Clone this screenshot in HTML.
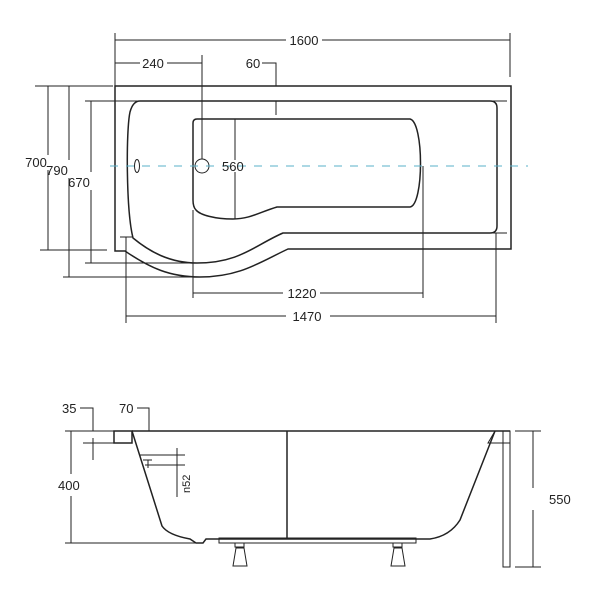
<!DOCTYPE html>
<html><head><style>body{margin:0;background:#fff}svg{display:block}text{font-family:"Liberation Sans",sans-serif;font-size:13px;fill:#222}</style></head>
<body>
<svg width="600" height="600" viewBox="0 0 600 600" xmlns="http://www.w3.org/2000/svg">
<g fill="none" stroke="#222" stroke-width="1">
<line x1="115" y1="40" x2="286" y2="40"/><line x1="322" y1="40" x2="510" y2="40"/>
<line x1="115" y1="33" x2="115" y2="86"/><line x1="510" y1="33" x2="510" y2="77"/>
<line x1="115" y1="63" x2="140" y2="63"/><line x1="167" y1="63" x2="202" y2="63"/>
<line x1="202" y1="55" x2="202" y2="159"/>
<polyline points="262,63 276,63 276,86"/><line x1="276" y1="101" x2="276" y2="115"/>
<line x1="235" y1="119" x2="235" y2="160"/><line x1="235" y1="172" x2="235" y2="219"/>
<line x1="35" y1="86" x2="113" y2="86"/><line x1="48" y1="86" x2="48" y2="155"/><line x1="48" y1="170" x2="48" y2="250"/><line x1="40" y1="250" x2="107" y2="250"/>
<line x1="69" y1="86" x2="69" y2="160"/><line x1="69" y1="178" x2="69" y2="277"/><line x1="63" y1="277" x2="200" y2="277"/>
<line x1="85" y1="101" x2="118" y2="101"/><line x1="91" y1="101" x2="91" y2="172"/><line x1="91" y1="190" x2="91" y2="263"/><line x1="85" y1="263" x2="197" y2="263"/>
<line x1="193" y1="210" x2="193" y2="298"/><line x1="423" y1="166" x2="423" y2="298"/>
<line x1="193" y1="293" x2="283" y2="293"/><line x1="320" y1="293" x2="423" y2="293"/>
<line x1="126" y1="237" x2="126" y2="323"/><line x1="496" y1="233" x2="496" y2="323"/>
<line x1="126" y1="316" x2="286" y2="316"/><line x1="330" y1="316" x2="496" y2="316"/>
<line x1="120" y1="237" x2="133" y2="237"/><line x1="490" y1="233" x2="507" y2="233"/>
<line x1="118" y1="101" x2="507" y2="101"/>
</g>
<g fill="none" stroke="#222" stroke-width="1.5">
<path d="M115,86 H511 V249 H288 C260,262 240,277 200,277 C170,277 150,268 125,251 H115 Z"/>
<path d="M140,101 H490 Q497,101 497,108 V226 Q497,233 490,233 H283 C255,245 240,263 197,263 C170,263 150,252 133,238 C126,210 126,130 130,112 Q133,101 140,101 Z"/>
<path d="M197,119 H410 C424,122 424,205 410,207 H277 C260,212 250,219 233,219 C215,219 200,215 196,210 Q193,207 193,200 V123 Q193,119 197,119 Z"/>
<ellipse cx="137" cy="166" rx="2.5" ry="6.5" stroke-width="1"/>
<circle cx="202" cy="166" r="7" stroke-width="1"/>
</g>
<line x1="110" y1="166" x2="528" y2="166" stroke="#5ab0c8" stroke-width="1" stroke-dasharray="8,8"/>
<g>
<text x="304" y="45" text-anchor="middle">1600</text>
<text x="153" y="68" text-anchor="middle">240</text>
<text x="253" y="68" text-anchor="middle">60</text>
<text x="222" y="171">560</text>
<text x="36" y="167" text-anchor="middle">700</text>
<text x="57" y="175" text-anchor="middle">790</text>
<text x="79" y="187" text-anchor="middle">670</text>
<text x="302" y="298" text-anchor="middle">1220</text>
<text x="307" y="321" text-anchor="middle">1470</text>
</g>
<g fill="none" stroke="#222" stroke-width="1">
<line x1="65" y1="431" x2="114" y2="431"/>
<polyline points="80,408 93,408 93,431"/><line x1="93" y1="438" x2="93" y2="460"/>
<line x1="83" y1="443" x2="114" y2="443"/>
<polyline points="137,408 149,408 149,431"/>
<line x1="71" y1="431" x2="71" y2="474"/><line x1="71" y1="496" x2="71" y2="543"/><line x1="65" y1="543" x2="202" y2="543"/>
<line x1="140" y1="455" x2="185" y2="455"/><line x1="145" y1="465" x2="185" y2="465"/><line x1="143" y1="460" x2="152" y2="460"/><line x1="148" y1="460" x2="148" y2="468"/>
<line x1="177" y1="448" x2="177" y2="497"/>
<line x1="515" y1="431" x2="541" y2="431"/><line x1="515" y1="567" x2="541" y2="567"/>
<line x1="533" y1="431" x2="533" y2="488"/><line x1="533" y1="510" x2="533" y2="567"/>
</g>
<g fill="none" stroke="#222" stroke-width="1.5">
<rect x="114" y="431" width="18" height="12"/>
<line x1="132" y1="431" x2="510" y2="431"/>
<path d="M132,431 L162,526 Q168,535 190,539 L196,543 H203 L206,539 H430 Q450,536 460,520 L495,431"/>
<line x1="287" y1="431" x2="287" y2="538"/>
<rect x="219" y="538" width="197" height="5" stroke-width="1"/>
<rect x="503" y="431" width="7" height="136" stroke-width="1"/>
<path d="M495,431 L488,443 H510" stroke-width="1"/>
<path d="M235,543 v4 h9 v-4 M236,548 h8 l3,18 h-14 z" stroke-width="1"/>
<path d="M393,543 v4 h9 v-4 M394,548 h8 l3,18 h-14 z" stroke-width="1"/>
</g>
<text x="62" y="413">35</text>
<text x="119" y="413">70</text>
<text x="58" y="490">400</text>
<text x="549" y="504">550</text>
<text transform="translate(190,493) rotate(-90)" style="font-size:11px">n52</text>
</svg>
</body></html>
